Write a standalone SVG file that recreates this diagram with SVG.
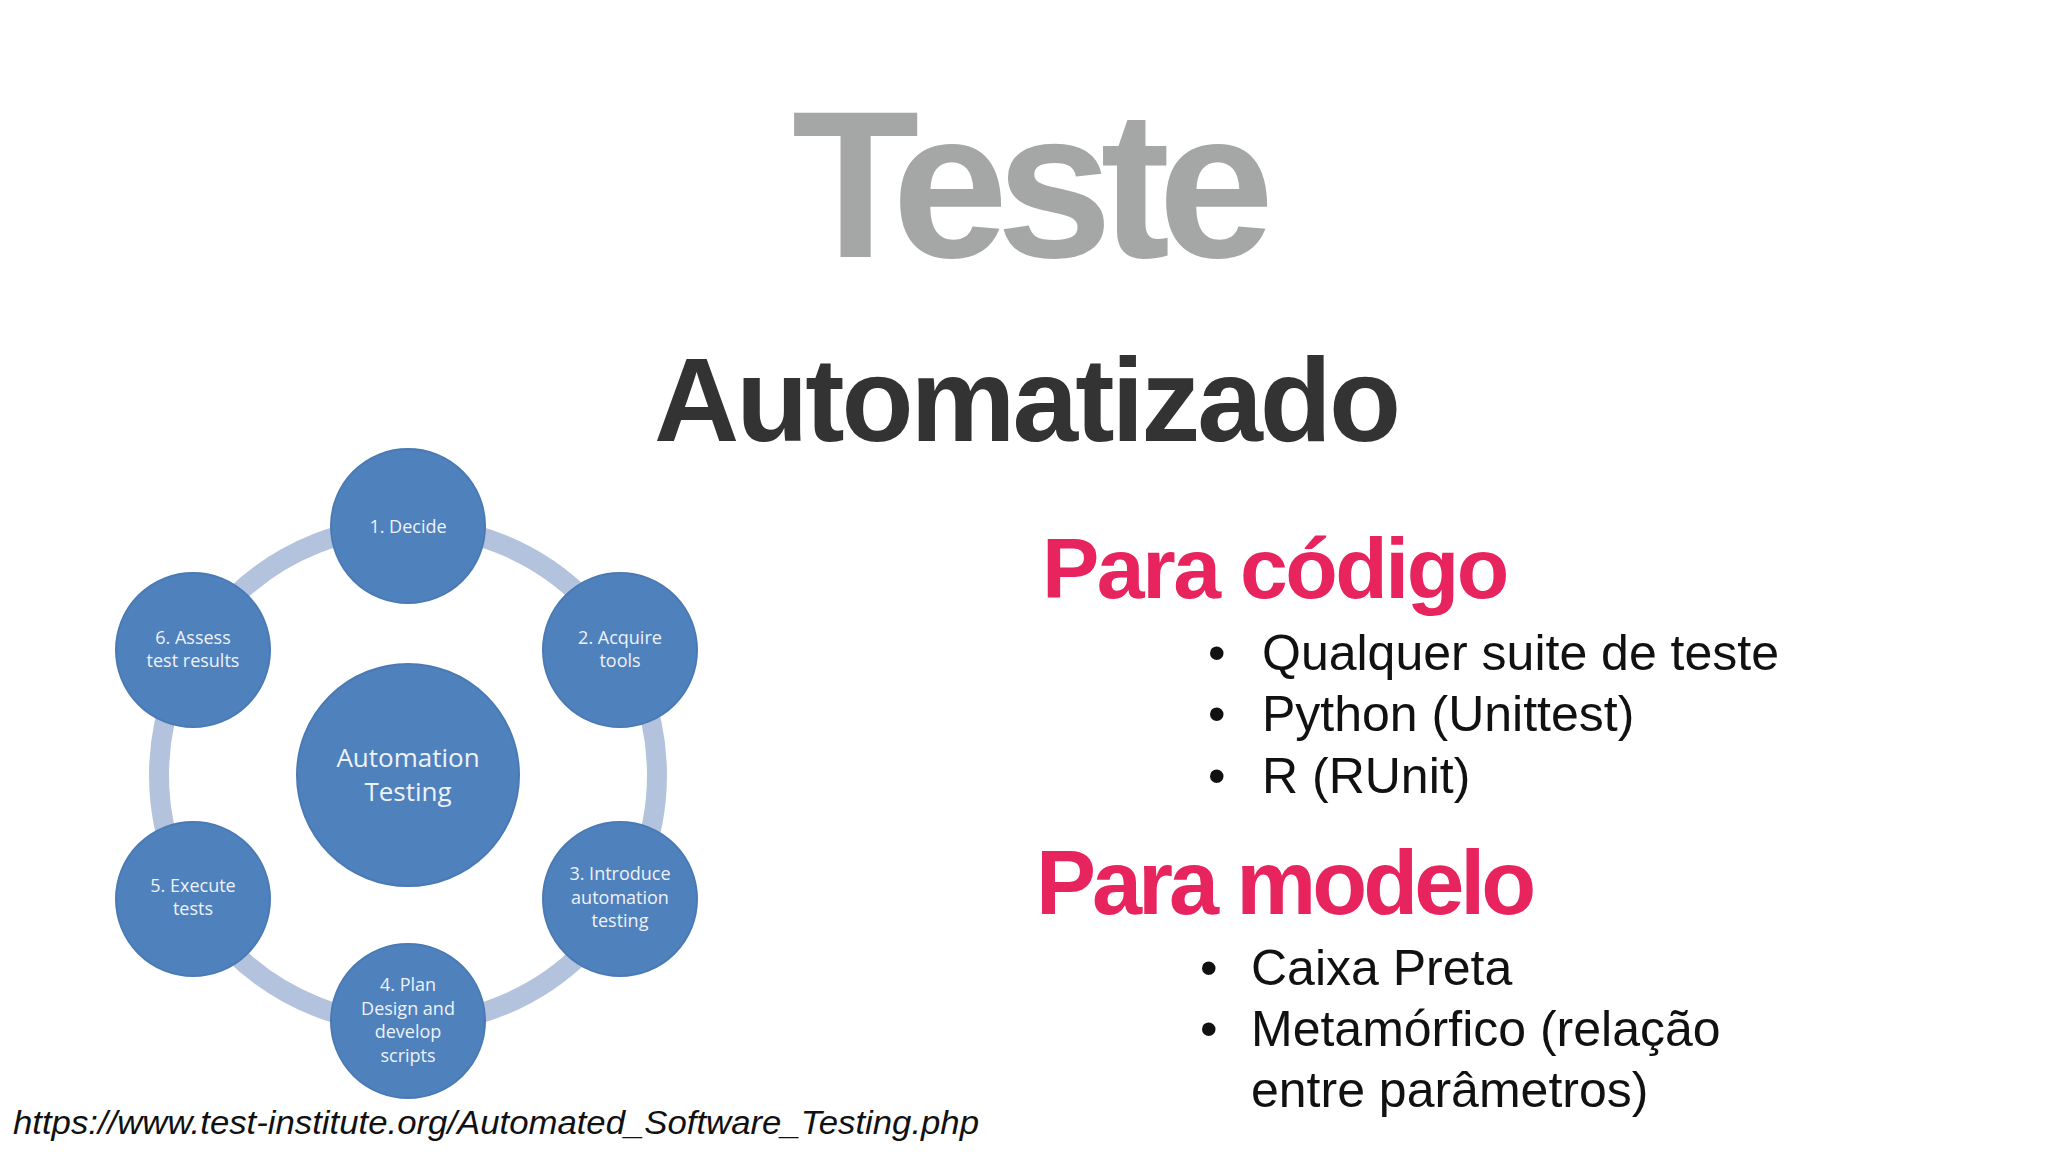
<svg xmlns="http://www.w3.org/2000/svg" width="2048" height="1152" viewBox="0 0 2048 1152">
<style>
.n{fill:#4f81bd;stroke:#4a7ab5;stroke-width:2}
.nt{font-family:"Open Sans","Liberation Sans",sans-serif;font-size:18px;fill:#eef2f9;text-anchor:middle}
.ct{font-family:"Open Sans","Liberation Sans",sans-serif;font-size:26px;fill:#eef2f9;text-anchor:middle}
.b{font-family:"Liberation Sans",Arial,sans-serif;font-size:50px;fill:#111}
.h{font-family:"Liberation Sans",Arial,sans-serif;font-weight:bold;fill:#e8245f}
</style>
<rect width="2048" height="1152" fill="#fff"/>
<text x="1027" y="257" text-anchor="middle" font-family="Liberation Sans,Arial,sans-serif" font-weight="bold" font-size="209" letter-spacing="-12" fill="#a5a7a6">Teste</text>
<text x="1026" y="441" text-anchor="middle" font-family="Liberation Sans,Arial,sans-serif" font-weight="bold" font-size="118" letter-spacing="-3" fill="#333">Automatizado</text>
<g id="connectors">
<circle cx="408" cy="775" r="249" fill="none" stroke="#b4c3dd" stroke-width="20"/>
</g>
<g id="center"><circle class="n" cx="408" cy="775" r="111"/><text class="ct" x="408" y="767">Automation</text><text class="ct" x="408" y="801">Testing</text></g>
<g id="n1"><circle class="n" cx="408" cy="526" r="77"/><text class="nt" x="408" y="533">1. Decide</text></g>
<g id="n2"><circle class="n" cx="620" cy="650" r="77"/><text class="nt" x="620" y="644">2. Acquire</text><text class="nt" x="620" y="667">tools</text></g>
<g id="n3"><circle class="n" cx="620" cy="899" r="77"/><text class="nt" x="620" y="880">3. Introduce</text><text class="nt" x="620" y="904">automation</text><text class="nt" x="620" y="927">testing</text></g>
<g id="n4"><circle class="n" cx="408" cy="1021" r="77"/><text class="nt" x="408" y="991">4. Plan</text><text class="nt" x="408" y="1015">Design and</text><text class="nt" x="408" y="1038">develop</text><text class="nt" x="408" y="1062">scripts</text></g>
<g id="n5"><circle class="n" cx="193" cy="899" r="77"/><text class="nt" x="193" y="892">5. Execute</text><text class="nt" x="193" y="915">tests</text></g>
<g id="n6"><circle class="n" cx="193" cy="650" r="77"/><text class="nt" x="193" y="644">6. Assess</text><text class="nt" x="193" y="667">test results</text></g>
<text class="h" x="1042" y="598" font-size="86" letter-spacing="-2.5">Para código</text>
<text class="b" x="1208" y="670">•</text><text class="b" x="1262" y="670">Qualquer suite de teste</text>
<text class="b" x="1208" y="731">•</text><text class="b" x="1262" y="731">Python (Unittest)</text>
<text class="b" x="1208" y="793">•</text><text class="b" x="1262" y="793">R (RUnit)</text>
<text class="h" x="1036" y="914" font-size="90" letter-spacing="-4">Para modelo</text>
<text class="b" x="1200" y="985">•</text><text class="b" x="1251" y="985">Caixa Preta</text>
<text class="b" x="1200" y="1046">•</text><text class="b" x="1251" y="1046">Metamórfico (relação</text>
<text class="b" x="1251" y="1107">entre parâmetros)</text>
<text x="13" y="1134" font-family="Liberation Sans,Arial,sans-serif" font-style="italic" font-size="33" fill="#111" textLength="966" lengthAdjust="spacingAndGlyphs">https://www.test-institute.org/Automated_Software_Testing.php</text>
</svg>
